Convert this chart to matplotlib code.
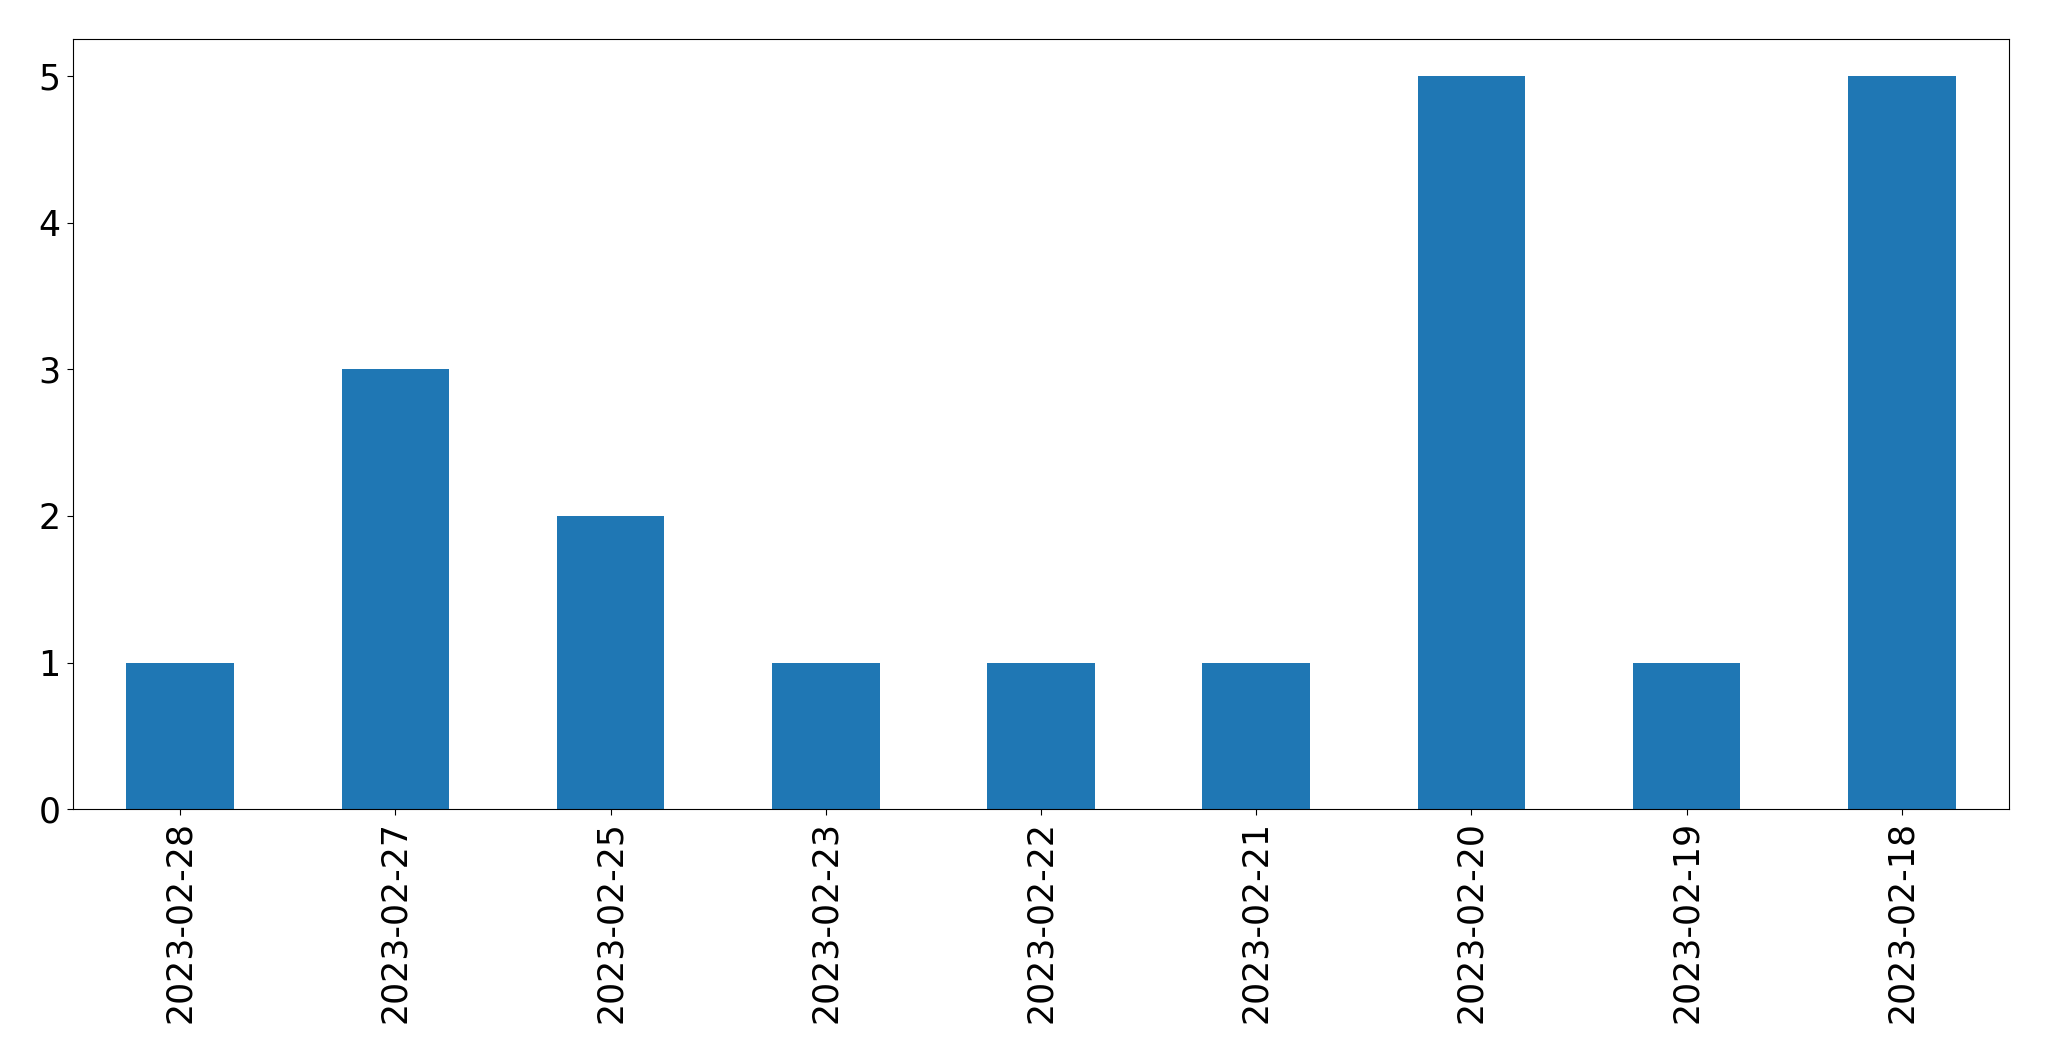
import matplotlib
matplotlib.use("Agg")
import matplotlib.pyplot as plt
import numpy as np

dates = ["2023-02-28", "2023-02-27", "2023-02-25", "2023-02-23", "2023-02-22",
         "2023-02-21", "2023-02-20", "2023-02-19", "2023-02-18"]
counts = [1, 3, 2, 1, 1, 1, 5, 1, 5]

fig = plt.figure(figsize=(20.49, 10.61), dpi=100)
ax = fig.add_axes([72.7 / 2049, 1 - 809.3 / 1061, (2009.3 - 72.7) / 2049, (809.3 - 39.3) / 1061])

x = np.arange(len(dates))
ax.bar(x, counts, width=0.5, color="#1f77b4")
ax.set_xlim(-0.5, len(dates) - 0.5)
ax.set_ylim(0, 5.25)
ax.set_xticks(x)
ax.set_xticklabels(dates, rotation=90)
ax.set_yticks(range(6))
ax.tick_params(axis="both", labelsize=25, length=4.3, pad=4.3)

fig.savefig("out.png", dpi=100)
